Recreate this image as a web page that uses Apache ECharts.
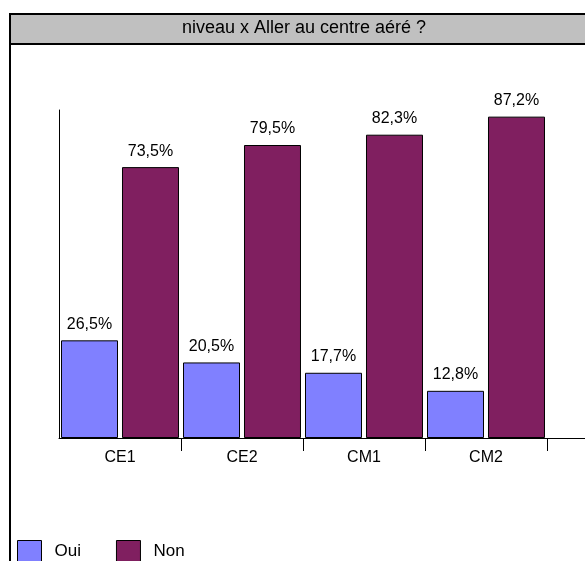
<!DOCTYPE html>
<html>
<head>
<meta charset="utf-8">
<script src="https://cdn.jsdelivr.net/npm/echarts@6/dist/echarts.min.js"></script>
<style>
  html, body { margin: 0; padding: 0; background: #fff; }
  #chart { width: 585px; height: 561px; }
</style>
</head>
<body>
<div id="chart"></div>
<script>
// Niveaux scolaires et réponses à « Aller au centre aéré ? » (en %)
const niveaux = ['CE1', 'CE2', 'CM1', 'CM2'];
const oui = [26.5, 20.5, 17.7, 12.8];
const non = [73.5, 79.5, 82.3, 87.2];
const titre = 'niveau x Aller au centre aéré ?';

const FONT = 'Liberation Sans, Arial, sans-serif';
const chart = echarts.init(document.getElementById('chart'), null, { renderer: 'canvas' });

const fmt = p => p.value.toFixed(1).replace('.', ',') + '%';
const labelStyle = {
  show: true,
  position: 'top',
  distance: 8,
  formatter: fmt,
  color: '#000',
  fontFamily: FONT,
  fontSize: 16
};

chart.setOption({
  animation: false,
  backgroundColor: '#fff',
  title: {
    text: titre,
    left: 304,
    textAlign: 'center',
    top: 19,
    padding: 0,
    textStyle: { fontFamily: FONT, fontSize: 18, fontWeight: 'normal', color: '#000' }
  },
  graphic: [
    // bandeau du titre
    { type: 'rect', z: -1, shape: { x: 10, y: 14, width: 590, height: 30 },
      style: { fill: '#c0c0c0', stroke: '#000', lineWidth: 2 } },
    // cadre extérieur
    { type: 'line', shape: { x1: 10, y1: 14, x2: 10, y2: 565 }, style: { stroke: '#000', lineWidth: 2 } },
    // prolongement de l'axe horizontal
    { type: 'line', shape: { x1: 547, y1: 438.5, x2: 590, y2: 438.5 }, style: { stroke: '#000', lineWidth: 1 } }
  ],
  legend: {
    left: 17,
    top: 540,
    padding: 0,
    icon: 'rect',
    itemWidth: 24,
    itemHeight: 22,
    itemGap: 35,
    textStyle: { fontFamily: FONT, fontSize: 17, color: '#000', padding: [0, 0, 0, 8] },
    data: [
      { name: 'Oui', itemStyle: { borderColor: '#000', borderWidth: 1 } },
      { name: 'Non', itemStyle: { borderColor: '#000', borderWidth: 1 } }
    ]
  },
  grid: { left: 59, top: 110, width: 488, height: 328 },
  xAxis: {
    type: 'category',
    data: niveaux,
    axisLine: { lineStyle: { color: '#000', width: 1 } },
    axisTick: { show: true, length: 13, interval: i => i !== 0, lineStyle: { color: '#000' } },
    axisLabel: { color: '#000', fontFamily: FONT, fontSize: 16, margin: 12 }
  },
  yAxis: {
    type: 'value',
    min: 0,
    max: 89,
    axisLine: { show: true, lineStyle: { color: '#000', width: 1 } },
    axisTick: { show: false },
    axisLabel: { show: false },
    splitLine: { show: false }
  },
  series: [
    { name: 'Oui', type: 'bar', data: oui, barWidth: 57, barGap: '7%',
      itemStyle: { color: '#8080ff', borderColor: '#000', borderWidth: 1 }, label: labelStyle },
    { name: 'Non', type: 'bar', data: non, barWidth: 57,
      itemStyle: { color: '#801f60', borderColor: '#000', borderWidth: 1 }, label: labelStyle }
  ]
});
</script>
</body>
</html>
